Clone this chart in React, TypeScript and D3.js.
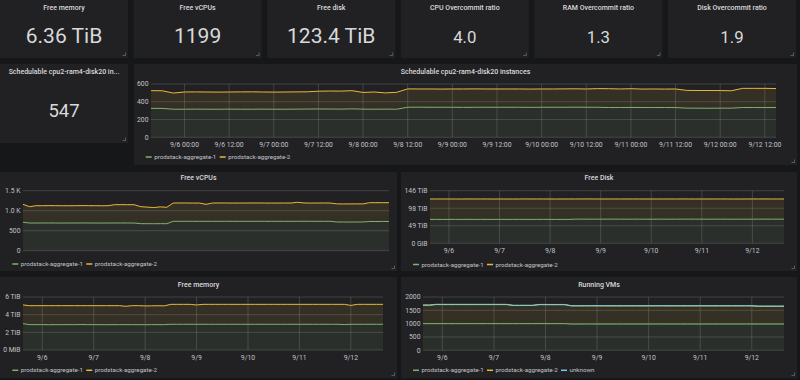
import React from 'react';
import * as d3 from 'd3';

// ---------- DATA ----------
const START = new Date(2019, 8, 5, 15, 0);
const STEP_HOURS = 3;
const N_POINTS = 57;
const times: Date[] = d3.range(N_POINTS).map((i) => d3.timeHour.offset(START, i * STEP_HOURS));
const END = times[times.length - 1];

const statTitles = ['Free memory', 'Free vCPUs', 'Free disk', 'CPU Overcommit ratio', 'RAM Overcommit ratio', 'Disk Overcommit ratio'];
const statValues = ['6.36 TiB', '1199', '123.4 TiB', '4.0', '1.3', '1.9'];
const schedStatTitle = 'Schedulable cpu2-ram4-disk20 in...';
const schedStatValue = '547';

const seriesNames = ['prodstack-aggregate-1', 'prodstack-aggregate-2', 'unknown'];

// Schedulable cpu2-ram4-disk20 instances
const sched1 = [
  326, 325,
  316, 316, 317, 316, 316, 317, 316, 316, 317, 316, 316, 317, 318, 319, 318, 317, 320, 317, 316, 317, 316,
  338, 339, 338, 338, 338, 337, 338, 338, 338, 338, 338, 337, 338, 338, 338, 339, 338, 338,
  335, 335, 336, 335, 335, 335, 335,
  328, 328, 327, 328, 328,
  335, 335, 335, 335,
];
const sched2 = [
  199, 199,
  182, 194, 194, 194, 193, 193, 195, 196, 193, 193, 194, 194, 194, 200, 203, 203, 205, 188, 194, 183, 190,
  207, 205, 206, 205, 206, 207, 207, 206, 206, 206, 206, 206, 206, 206, 207, 207, 206, 210,
  212, 209, 211, 208, 209, 208, 209,
  200, 199, 200, 198, 196,
  216, 216, 216, 214,
];

// Free vCPUs
const vcpu1 = [
  710, 692,
  692, 692, 693, 692, 691, 692, 692, 693, 692, 692, 691, 692, 692, 693, 692, 692,
  676, 675, 674, 676, 675,
  735, 735, 736, 735, 735, 734, 735, 735, 736, 735, 735, 735, 735, 736, 735, 735, 735, 734, 735, 735, 736, 735, 735, 735, 735,
  718, 717, 716, 717, 718,
  730, 730, 731, 730,
];
const vcpu2 = [
  450, 408,
  433, 432, 434, 433, 433, 432, 433, 434, 433, 433, 432, 433,
  458, 458, 457, 458,
  425, 415, 405, 420, 410,
  457, 458, 457, 456, 457, 425, 457, 458, 457, 456, 457, 457, 458, 457, 457, 456, 457, 458, 457, 475, 457, 456, 457, 458, 457,
  453, 452, 454, 453, 452,
  470, 470, 469, 470,
];

// Free Disk (TiB)
const disk1 = [
  66.6, 66.6, 66.5, 66.6, 66.6, 66.6, 66.7, 66.6, 66.6, 66.6,
  66.5, 66.6, 66.6, 66.6, 66.6, 66.7, 66.6, 66.6, 66.6, 66.6,
  66.5, 66.6, 66.6,
  67.2, 67.3, 67.2, 67.2, 67.2, 67.2, 67.3, 67.2, 67.2, 67.2,
  67.2, 67.2, 67.1, 67.2, 67.2, 67.2, 67.2, 67.2, 67.3, 67.2,
  67.2, 67.2, 67.2, 67.2, 67.2, 67.1, 67.2, 67.2, 67.2, 67.2,
  67.3, 67.2, 67.2, 67.2,
];
const disk2 = [
  56.8, 56.8, 56.9, 56.8, 56.8, 56.7, 56.8, 56.8, 56.8, 56.9,
  56.8, 56.8, 56.8, 56.7, 56.8, 56.8, 56.8, 56.9, 56.8, 56.8,
  56.8, 56.8, 56.8,
  56.2, 56.2, 56.3, 56.2, 56.2, 56.2, 56.1, 56.2, 56.2, 56.3,
  56.2, 56.2, 56.3, 56.2, 56.2, 56.2, 56.2, 56.3, 56.1, 56.2,
  56.2, 56.2, 56.2, 56.3, 56.2, 56.2, 56.2, 56.2, 56.3, 56.2,
  56.2, 56.2, 56.2, 56.2,
];

// Free memory (TiB)
const mem1 = [
  2.98,
  2.87, 2.87, 2.87, 2.86, 2.87, 2.87, 2.87, 2.87, 2.88, 2.87, 2.87,
  2.87, 2.86, 2.87, 2.87, 2.87, 2.87, 2.87, 2.86, 2.87, 2.87, 2.87,
  2.91, 2.91, 2.91, 2.91, 2.91, 2.91, 2.91, 2.91, 2.91, 2.91,
  2.91, 2.91, 2.91, 2.91, 2.91, 2.91, 2.91, 2.91, 2.91, 2.91,
  2.91, 2.91, 2.91, 2.91, 2.91, 2.91, 2.91, 2.88, 2.91, 2.91,
  2.91, 2.91, 2.91, 2.91,
];
const mem2 = [
  2.12,
  2.15, 2.15, 2.15, 2.16, 2.15, 2.15, 2.15, 2.15, 2.14, 2.15, 2.15, 2.15, 2.16, 2.15, 2.15,
  2.08,
  2.15, 2.15,
  2.13, 2.13, 2.14, 2.13,
  2.26, 2.26, 2.26, 2.26,
  2.19,
  2.26, 2.26, 2.26, 2.26, 2.26, 2.26, 2.26, 2.26, 2.26, 2.26, 2.26,
  2.26, 2.26, 2.26, 2.26, 2.26, 2.26, 2.26, 2.26, 2.26, 2.26, 2.26,
  2.29,
  2.14,
  2.26, 2.26, 2.26, 2.26, 2.26,
];

// Running VMs
const vm1 = [
  1000, 1000, 1001, 1000, 1000, 999, 1000, 1000, 1000, 1001,
  1000, 1000, 1000, 999, 1000, 1000, 1000, 1000, 1001, 1000,
  1000, 1000, 1000,
  985, 985, 985, 986, 985, 985, 985, 984, 985, 985,
  985, 985, 985, 985, 986, 985, 985, 985, 985, 985,
  984, 985, 985, 985, 985, 985, 985, 986, 985, 985,
  985, 985, 985, 985,
];
const vm2 = [
  690, 690,
  715, 715, 715, 716, 715, 715, 715, 714, 715, 715, 715, 715,
  680, 680, 681, 680,
  710, 711, 710, 710, 710,
  680, 680, 680, 680, 681, 680, 680, 680, 680, 680,
  680, 679, 680, 680, 680, 680, 680, 680, 680, 680,
  681, 680, 680, 680, 680, 680, 680, 680, 680,
  665, 665, 665, 665, 665,
];
const vmUnknown = [
  10, 10, 10, 10, 10, 10, 10, 10, 10, 10,
  10, 10, 10, 10, 10, 10, 10, 10, 10, 10,
  10, 10, 10, 10, 10, 10, 10, 10, 10, 10,
  10, 10, 10, 10, 10, 10, 10, 10, 10, 10,
  10, 10, 10, 10, 10, 10, 10, 10, 10, 10,
  10, 10, 10, 10, 10, 10, 10,
];

const schedTicks = [0, 200, 400, 600];
const schedTickLabels = ['0', '200', '400', '600'];
const vcpuTicks = [0, 500, 1000, 1500];
const vcpuTickLabels = ['0', '500', '1.0 K', '1.5 K'];
const diskTicks = [0, 48.83, 97.66, 146.48];
const diskTickLabels = ['0 GiB', '49 TiB', '98 TiB', '146 TiB'];
const memTicks = [0, 2, 4, 6];
const memTickLabels = ['0 MiB', '2 TiB', '4 TiB', '6 TiB'];
const vmTicks = [0, 500, 1000, 1500, 2000];
const vmTickLabels = ['0', '500', '1000', '1500', '2000'];

// ---------- STYLE ----------
const GREEN = '#7EB26D';
const YELLOW = '#EAB839';
const BLUE = '#6ED0E0';
const PAGE_BG = '#161719';
const PANEL_BG = '#212124';
const TEXT = '#d8d9da';
const AXIS_TEXT = '#c0c4c8';
const GRID = 'rgba(150,150,155,0.28)';
const FONT = "Roboto, 'Noto Sans', sans-serif";

type Series = { name: string; color: string; values: number[] };

function Handle({ r, b }: { r: number; b: number }) {
  return <path d={`M${r - 5.5},${b - 2.5} H${r - 2.5} V${b - 5.5}`} fill="none" stroke="#6a6a6e" strokeWidth={0.8} />;
}

function StatPanel(props: { x: number; y: number; w: number; h: number; title: string; value: string; titleY: number; valueY: number; fs: number }) {
  const { x, y, w, h, title, value, titleY, valueY, fs } = props;
  return (
    <g>
      <rect x={x} y={y} width={w} height={h} fill={PANEL_BG} />
      <text x={x + w / 2} y={titleY} textAnchor="middle" fontSize={7} fontWeight={500} fill={TEXT}>{title}</text>
      <text x={x + w / 2} y={valueY} textAnchor="middle" fontSize={fs} fill={TEXT}>{value}</text>
      <Handle r={x + w} b={y + h} />
    </g>
  );
}

function GraphPanel(props: {
  px: number; py: number; pw: number; ph: number;
  title: string; titleY: number;
  left: number; right: number; top: number; bottom: number;
  yMax: number; yTicks: number[]; yLabels: string[];
  xMode: 'datetime' | 'date' | 'none'; xLabelY: number;
  legendY: number; legendX: number;
  series: Series[];
}) {
  const p = props;
  const x = d3.scaleTime().domain([START, END]).range([p.left, p.right]);
  const y = d3.scaleLinear().domain([0, p.yMax]).range([p.bottom, p.top]);
  const rows = times.map((t, i) => ({ i }));
  const keys = p.series.map((_, k) => k);
  const stacked = d3.stack<{ i: number }, number>()
    .keys(keys)
    .value((d, k) => p.series[k].values[d.i])(rows);
  const area = d3.area<d3.SeriesPoint<{ i: number }>>()
    .x((d) => x(times[d.data.i]))
    .y0((d) => y(d[0]))
    .y1((d) => y(d[1]));
  const line = d3.line<d3.SeriesPoint<{ i: number }>>()
    .x((d) => x(times[d.data.i]))
    .y((d) => y(d[1]));

  let xTicks: Date[] = [];
  let fmt = d3.timeFormat('%-m/%-d');
  if (p.xMode === 'datetime') {
    xTicks = x.ticks(d3.timeHour.every(12) as d3.TimeInterval);
    fmt = d3.timeFormat('%-m/%-d %H:%M');
  } else if (p.xMode === 'date') {
    xTicks = x.ticks(d3.timeDay.every(1) as d3.TimeInterval);
  }

  return (
    <g>
      <rect x={p.px} y={p.py} width={p.pw} height={p.ph} fill={PANEL_BG} />
      <text x={p.px + p.pw / 2} y={p.titleY} textAnchor="middle" fontSize={7} fontWeight={500} fill={TEXT}>{p.title}</text>
      {p.yTicks.map((t, i) => (
        <line key={'gy' + i} x1={p.left} x2={p.right} y1={y(t)} y2={y(t)} stroke={GRID} strokeWidth={1} />
      ))}
      {xTicks.map((t, i) => (
        <line key={'gx' + i} x1={x(t)} x2={x(t)} y1={p.top} y2={p.bottom} stroke={GRID} strokeWidth={1} />
      ))}
      {stacked.map((s, k) => (
        <path key={'a' + k} d={area(s) || ''} fill={p.series[k].color} fillOpacity={0.1} stroke="none" />
      ))}
      {stacked.map((s, k) => (
        <path key={'l' + k} d={line(s) || ''} fill="none" stroke={p.series[k].color} strokeWidth={1} />
      ))}
      {p.yTicks.map((t, i) => (
        <text key={'ty' + i} x={p.left - 2.5} y={y(t)} dy="0.35em" textAnchor="end" fontSize={6.8} fill={AXIS_TEXT}>{p.yLabels[i]}</text>
      ))}
      {xTicks.map((t, i) => (
        <text key={'tx' + i} x={x(t)} y={p.xLabelY} dy="0.35em" textAnchor="middle" fontSize={6.8} fill={AXIS_TEXT}>{fmt(t)}</text>
      ))}
      {p.series.map((s, k) => {
        const lx = p.legendX + k * 74;
        return (
          <g key={'lg' + k}>
            <line x1={lx} x2={lx + 6} y1={p.legendY} y2={p.legendY} stroke={s.color} strokeWidth={1.5} />
            <text x={lx + 8.5} y={p.legendY} dy="0.35em" fontSize={6.2} fill={AXIS_TEXT}>{s.name}</text>
          </g>
        );
      })}
      <Handle r={p.px + p.pw} b={p.py + p.ph} />
    </g>
  );
}

export default function App() {
  const statW = 128;
  const statStep = 133.6;
  return (
    <svg width={800} height={380} style={{ position: 'absolute', left: 0, top: 0, display: 'block' }} fontFamily={FONT}>
      <rect x={0} y={0} width={800} height={380} fill={PAGE_BG} />
      {statTitles.map((t, i) => (
        <StatPanel key={i} x={i * statStep} y={0} w={statW} h={58} title={t} value={statValues[i]}
          titleY={10} valueY={42.7} fs={i < 3 ? 21 : 16.8} />
      ))}
      <StatPanel x={0} y={64} w={128} h={79} title={schedStatTitle} value={schedStatValue} titleY={73.5} valueY={117.3} fs={18.5} />
      <GraphPanel px={134} py={64} pw={663} ph={101} title="Schedulable cpu2-ram4-disk20 instances" titleY={73.5}
        left={151} right={776} top={84} bottom={137.3} yMax={600} yTicks={schedTicks} yLabels={schedTickLabels}
        xMode="datetime" xLabelY={144.3} legendY={157} legendX={145.7}
        series={[{ name: seriesNames[0], color: GREEN, values: sched1 }, { name: seriesNames[1], color: YELLOW, values: sched2 }]} />
      <GraphPanel px={0} py={172} pw={397} ph={99} title="Free vCPUs" titleY={180}
        left={23} right={389} top={190.7} bottom={250.7} yMax={1500} yTicks={vcpuTicks} yLabels={vcpuTickLabels}
        xMode="none" xLabelY={0} legendY={264} legendX={12.3}
        series={[{ name: seriesNames[0], color: GREEN, values: vcpu1 }, { name: seriesNames[1], color: YELLOW, values: vcpu2 }]} />
      <GraphPanel px={401} py={172} pw={396} ph={99} title="Free Disk" titleY={180.3}
        left={430} right={784} top={190.7} bottom={243.3} yMax={146.48} yTicks={diskTicks} yLabels={diskTickLabels}
        xMode="date" xLabelY={251} legendY={264.5} legendX={413}
        series={[{ name: seriesNames[0], color: GREEN, values: disk1 }, { name: seriesNames[1], color: YELLOW, values: disk2 }]} />
      <GraphPanel px={0} py={277} pw={397} ph={101} title="Free memory" titleY={287}
        left={23} right={383} top={297} bottom={350} yMax={6} yTicks={memTicks} yLabels={memTickLabels}
        xMode="date" xLabelY={358} legendY={370.3} legendX={12.3}
        series={[{ name: seriesNames[0], color: GREEN, values: mem1 }, { name: seriesNames[1], color: YELLOW, values: mem2 }]} />
      <GraphPanel px={401} py={277} pw={396} ph={101} title="Running VMs" titleY={287}
        left={423} right={784} top={297} bottom={350.3} yMax={2000} yTicks={vmTicks} yLabels={vmTickLabels}
        xMode="date" xLabelY={358} legendY={370.3} legendX={413}
        series={[
          { name: seriesNames[0], color: GREEN, values: vm1 },
          { name: seriesNames[1], color: YELLOW, values: vm2 },
          { name: seriesNames[2], color: BLUE, values: vmUnknown },
        ]} />
    </svg>
  );
}
